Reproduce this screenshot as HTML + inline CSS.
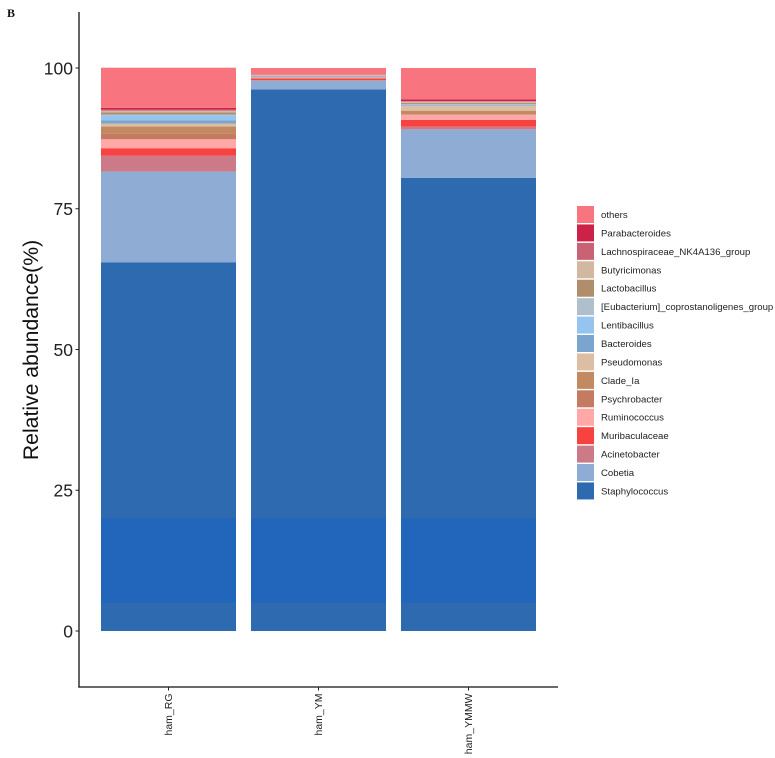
<!DOCTYPE html>
<html lang="en">
<head>
<meta charset="utf-8">
<title>Relative abundance chart</title>
<style>
html,body{margin:0;padding:0;background:#fff;width:775px;height:758px;overflow:hidden}
svg{display:block;font-family:"Liberation Sans",Arial,sans-serif}
</style>
</head>
<body>
<svg id="chart" width="775" height="758" viewBox="0 0 775 758" xmlns="http://www.w3.org/2000/svg">
  <text x="7" y="17" font-family="'Liberation Serif',serif" font-weight="bold" font-size="12" fill="#111">B</text>
  <text transform="translate(38,350) rotate(-90)" text-anchor="middle" font-size="21.2" fill="#111">Relative abundance(%)</text>
</svg>
<script>
const categories = ['ham_RG', 'ham_YM', 'ham_YMMW'];
const seriesNames = ['Staphylococcus', 'Cobetia', 'Acinetobacter', 'Muribaculaceae', 'Ruminococcus', 'Psychrobacter', 'Clade_Ia', 'Pseudomonas', 'Bacteroides', 'Lentibacillus', '[Eubacterium]_coprostanoligenes_group', 'Lactobacillus', 'Butyricimonas', 'Lachnospiraceae_NK4A136_group', 'Parabacteroides', 'others'];
const hamRG = [65.5, 16.1, 2.85, 1.3, 1.6, 1.0, 1.25, 0.53, 0.6, 0.9, 0.1, 0.4, 0.3, 0.18, 0.3, 7.14];
const hamYM = [96.2, 1.55, 0.1, 0.3, 0.12, 0.05, 0.05, 0.05, 0.15, 0.05, 0.03, 0.05, 0.05, 0.03, 0.02, 1.2];
const hamYMMW = [80.5, 8.6, 0.47, 1.2, 0.95, 0.1, 0.6, 0.9, 0.1, 0.1, 0.1, 0.2, 0.2, 0.1, 0.3, 5.58];
const yTicks = [0, 25, 50, 75, 100];
const bandLimits = [5, 20];
const palette = ['#2d6ab0', '#8fadd4', '#cc7a88', '#f8423f', '#ffa8a5', '#c57b61', '#c38a62', '#dcbfa3', '#7ba5cf', '#95c4ee', '#afc0cc', '#b08d6b', '#d2b8a0', '#c96274', '#cc2248', '#f8747e'];

const svg = document.getElementById('chart');
const NS = 'http://www.w3.org/2000/svg';
const allSeries = [hamRG, hamYM, hamYMMW];
const yScale = v => 631 - 5.63 * v;
const xCenter = i => 168.5 + 150 * i;
const barWidth = 135;

function make(tag, attrs, parent) {
  const el = document.createElementNS(NS, tag);
  for (const k in attrs) el.setAttribute(k, attrs[k]);
  (parent || svg).appendChild(el);
  return el;
}

categories.forEach((cat, i) => {
  const group = make('g', {});
  
  
  let cum = 0;
  allSeries[i].forEach((v, s) => {
    const top = yScale(cum + v);
    const bottom = yScale(cum);
    const seg = make('rect', {x: xCenter(i) - barWidth / 2, y: top, width: barWidth, height: bottom - top, fill: palette[s]}, group);
    
    
    cum += v;
  });
  const band = make('rect', {x: xCenter(i) - barWidth / 2, y: yScale(bandLimits[1]), width: barWidth, height: yScale(bandLimits[0]) - yScale(bandLimits[1]), fill: '#2166ba'}, group);
  
  
});

const yAxis = make('line', {x1: 79, y1: 12, x2: 79, y2: 687.6, stroke: '#111', 'stroke-width': 1.3});


const xAxis = make('line', {x1: 78.4, y1: 687, x2: 558, y2: 687, stroke: '#111', 'stroke-width': 1.3});



yTicks.forEach(t => {
  const y = yScale(t);
  const tick = make('line', {x1: 75.5, y1: y, x2: 79, y2: y, stroke: '#222', 'stroke-width': 1});
  
  
  const label = make('text', {x: 73, y: y + 6.3, 'text-anchor': 'end', 'font-size': 17.5, fill: '#222'});
  
  
  label.textContent = t;
});

categories.forEach((cat, i) => {
  const x = xCenter(i);
  const tick = make('line', {x1: x, y1: 687, x2: x, y2: 690.5, stroke: '#222', 'stroke-width': 1});
  
  
  const label = make('text', {transform: 'translate(' + (x + 3.7) + ',693.5) rotate(-90)', 'text-anchor': 'end', 'font-size': 10.5, fill: '#222'});
  
  
  label.textContent = cat;
});

const legend = make('g', {});


seriesNames.slice().reverse().forEach((name, r) => {
  const color = palette[seriesNames.length - 1 - r];
  const top = 206 + 18.43 * r;
  const entry = make('g', {}, legend);
  
  
  const swatch = make('rect', {x: 577, y: top, width: 17, height: 17, fill: color}, entry);
  
  
  const text = make('text', {x: 601, y: top + 12, 'font-size': 9.6, fill: '#222'}, entry);
  
  
  text.textContent = name;
});
</script>
</body>
</html>
